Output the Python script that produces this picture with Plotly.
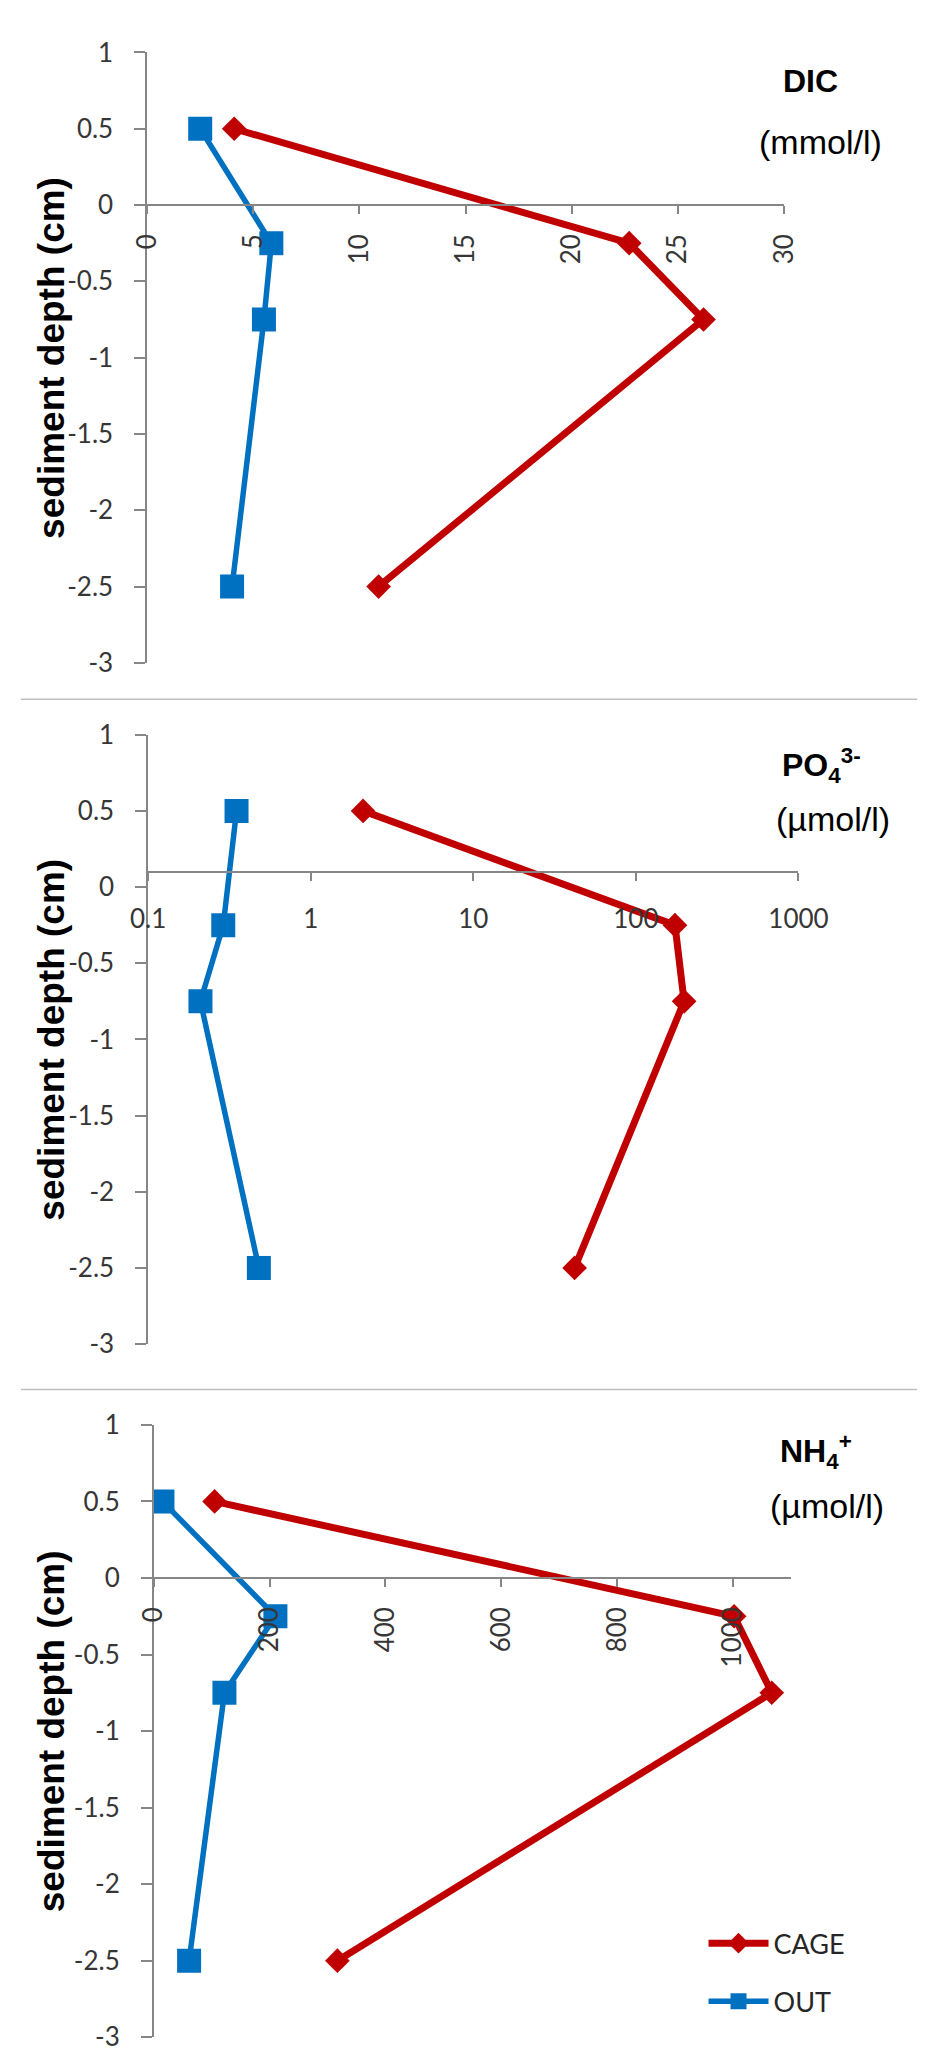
import plotly.graph_objects as go

# depth of each sample (cm)
depth = [0.5, -0.25, -0.75, -2.5]

# DIC (mmol/l)
dic_cage = [4.1, 22.7, 26.2, 10.9]
dic_out = [2.5, 5.85, 5.5, 4.0]

# PO4 3- (umol/l), log axis
po4_cage = [2.1, 174, 198, 42]
po4_out = [0.35, 0.29, 0.21, 0.48]

# NH4+ (umol/l)
nh4_cage = [105, 1002, 1067, 317]
nh4_out = [15, 210, 122, 61]

y_ticks = [1, 0.5, 0, -0.5, -1, -1.5, -2, -2.5, -3]
y_ticktext = ["1", "0.5", "0", "-0.5", "-1", "-1.5", "-2", "-2.5", "-3"]
po4_ticks = [0.1, 1, 10, 100, 1000]
po4_ticktext = ["0.1", "1", "10", "100", "1000"]

W, H = 950, 2067
RED = "#C00000"
BLUE = "#0070C0"
AXIS = "#868686"
TICKFONT = dict(family="Lato", size=26, color="#363636")
Y_RANGE = [-3, 1]

# one dict per panel, boxes are in pixels (left, right, top, bottom)
panels = [
    dict(cage=dic_cage, out=dic_out, box=(136, 807, 36, 656), xtype="linear",
         xrange=[0, 30], dtick=5, cross=0, angle=-90,
         title="<b>DIC</b>", unit="(mmol/l)", tpos=(835, 65), upos=(845, 127)),
    dict(cage=po4_cage, out=po4_out, box=(137, 822, 729, 1348), xtype="log",
         xrange=[-1, 3], dtick=None, cross=0.1, angle=0,
         title="<b>PO<sub>4</sub><sup>3-</sup></b>", unit="(µmol/l)",
         tpos=(846, 760), upos=(858, 815)),
    dict(cage=nh4_cage, out=nh4_out, box=(143, 814, 1430, 2052), xtype="linear",
         xrange=[0, 1100], dtick=200, cross=0, angle=-90,
         title="<b>NH<sub>4</sub><sup>+</sup></b>", unit="(µmol/l)",
         tpos=(840, 1457), upos=(852, 1512)),
]

fig = go.Figure()
annotations = []
last = len(panels) - 1

for i, p in enumerate(panels):
    n = "" if i == 0 else str(i + 1)
    left, right, top, bottom = p["box"]
    xd = [left / W, right / W]
    yd = [1 - bottom / H, 1 - top / H]
    # where the x axis crosses the depth axis
    frac = (p["cross"] - Y_RANGE[0]) / (Y_RANGE[1] - Y_RANGE[0])
    xpos = yd[0] + frac * (yd[1] - yd[0])

    fig.add_trace(go.Scatter(
        x=p["cage"], y=depth, mode="lines+markers", name="CAGE",
        line=dict(color=RED, width=7),
        marker=dict(symbol="diamond", size=19, color=RED),
        xaxis="x" + n, yaxis="y" + n, showlegend=(i == last), legendgroup="cage"))
    fig.add_trace(go.Scatter(
        x=p["out"], y=depth, mode="lines+markers", name="OUT",
        line=dict(color=BLUE, width=5.5),
        marker=dict(symbol="square", size=24, color=BLUE),
        xaxis="x" + n, yaxis="y" + n, showlegend=(i == last), legendgroup="out"))

    xaxis = dict(domain=xd, anchor="free", position=xpos, type=p["xtype"],
                 range=p["xrange"], showgrid=False, zeroline=False,
                 showline=True, linecolor=AXIS, linewidth=1.5,
                 ticks="outside", ticklen=8, tickcolor=AXIS, tickwidth=1.5,
                 tickangle=p["angle"], tickfont=TICKFONT)
    if p["xtype"] == "log":
        xaxis.update(tickmode="array", tickvals=po4_ticks, ticktext=po4_ticktext,
                     ticklabelstandoff=16)
    else:
        xaxis.update(tick0=0, dtick=p["dtick"], ticklabelstandoff=10)
    yaxis = dict(domain=yd, anchor="x" + n, range=Y_RANGE, showgrid=False,
                 zeroline=False, showline=True, linecolor=AXIS, linewidth=1.5,
                 ticks="outside", ticklen=11, tickcolor=AXIS, tickwidth=1.5,
                 tickmode="array", tickvals=y_ticks, ticktext=y_ticktext,
                 tickfont=TICKFONT, ticklabelstandoff=16)
    fig.update_layout({"xaxis" + n: xaxis, "yaxis" + n: yaxis})

    annotations.append(dict(
        text=p["title"], x=p["tpos"][0] / W, y=1 - p["tpos"][1] / H,
        xref="paper", yref="paper", xanchor="center", yanchor="middle",
        showarrow=False, font=dict(family="Liberation Sans", size=32, color="black")))
    annotations.append(dict(
        text=p["unit"], x=p["upos"][0] / W, y=1 - p["upos"][1] / H,
        xref="paper", yref="paper", xanchor="center", yanchor="middle",
        showarrow=False, font=dict(family="Liberation Sans", size=34, color="black")))
    annotations.append(dict(
        text="<b>sediment depth (cm)</b>", textangle=-90,
        x=35 / W, y=(yd[0] + yd[1]) / 2, xref="paper", yref="paper",
        xanchor="center", yanchor="middle", showarrow=False,
        font=dict(family="Liberation Sans", size=37, color="black")))

# grey lines between the panels
shapes = []
for ysep in [693, 1394]:
    shapes.append(dict(type="line", xref="paper", yref="paper",
                       x0=3 / W, x1=947 / W, y0=1 - ysep / H, y1=1 - ysep / H,
                       line=dict(color="#BFBFBF", width=1.5)))

fig.update_layout(
    width=W, height=H,
    margin=dict(l=0, r=0, t=0, b=0),
    paper_bgcolor="white", plot_bgcolor="white",
    annotations=annotations, shapes=shapes,
    legend=dict(x=722 / W, xanchor="left", y=1 - 1932 / H, yanchor="top",
                font=dict(family="Lato", size=27, color="#262626"),
                bgcolor="rgba(0,0,0,0)", itemwidth=60, tracegroupgap=20),
)

# drop the default page margin so the figure sits at the window's corner
fig.write_html("out.html", config={"displayModeBar": False},
               post_script="document.body.style.margin='0';")
